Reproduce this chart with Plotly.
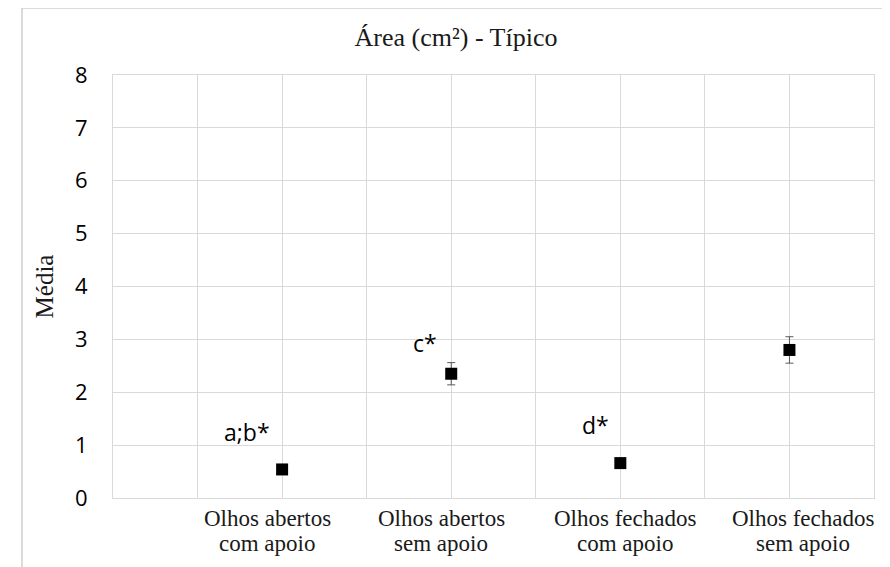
import plotly.graph_objects as go

categories = ["Olhos abertos<br>com apoio", "Olhos abertos<br>sem apoio",
              "Olhos fechados<br>com apoio", "Olhos fechados<br>sem apoio"]
means = [0.54, 2.35, 0.66, 2.80]
errors = [0.05, 0.21, 0.05, 0.25]
sig_labels = ["a;b*", "c*", "d*", ""]
y_ticks = [0, 1, 2, 3, 4, 5, 6, 7, 8]

# categories sit on every second grid slot of a 0..9 axis
x_pos = [2 * (i + 1) for i in range(len(categories))]
grid_vals = list(range(0, 10))

# the page body has an 8px margin, so the figure is 8px smaller and shifted
W, H = 882, 559
PLOT_H = 423
fig = go.Figure()
fig.add_trace(go.Scatter(
    x=x_pos, y=means, mode="markers",
    marker=dict(symbol="square", size=12, color="black"),
    error_y=dict(type="data", array=errors, visible=True, color="#595959", thickness=1, width=4),
    showlegend=False, cliponaxis=False,
))

offsets = [(-35, 37), (-26, 31), (-25, 38), (0, 0)]
for xv, yv, lab, (dx, dy) in zip(x_pos, means, sig_labels, offsets):
    if lab:
        fig.add_annotation(x=xv, y=yv, text=lab, showarrow=False, xshift=dx, yshift=dy,
                           font=dict(family="Open Sans", size=23, color="black"))

# category labels (two lines each) below the axis
label_shift = [-15, -10, 5, 14]
line_y = [-20 / PLOT_H, -45 / PLOT_H]
for xv, cat, sh in zip(x_pos, categories, label_shift):
    for ln, ly in zip(cat.split("<br>"), line_y):
        fig.add_annotation(x=xv, xref="x", y=ly, yref="paper", text=ln, showarrow=False,
                           xshift=sh, xanchor="center", yanchor="middle",
                           font=dict(family="Liberation Serif", size=23, color="#1a1a1a"))

grid_col = "#d9d9d9"
fig.update_layout(
    width=W, height=H,
    margin=dict(l=105, r=16, t=67, b=69),
    paper_bgcolor="white", plot_bgcolor="white",
    title=dict(text="Área (cm²) - Típico", x=448 / W, xanchor="center", y=1 - 29 / H, yanchor="middle",
               font=dict(family="Liberation Serif", size=26, color="#1a1a1a")),
    xaxis=dict(range=[0, 9], tickmode="array", tickvals=grid_vals, showticklabels=False,
               showgrid=True, gridcolor=grid_col, gridwidth=1, zeroline=False, automargin=False,
               showline=True, linecolor=grid_col, mirror=True, ticks=""),
    yaxis=dict(range=[0, 8], tickmode="array", tickvals=y_ticks,
               showgrid=True, gridcolor=grid_col, gridwidth=1, zeroline=False, automargin=False,
               showline=True, linecolor=grid_col, mirror=True, ticks="",
               ticklabelstandoff=20,
               tickfont=dict(family="Open Sans", size=22, color="black"),
               title=dict(text="Média", standoff=14,
                          font=dict(family="Liberation Serif", size=25, color="#1a1a1a"))),
)
fig.add_shape(type="rect", xref="paper", yref="paper",
              x0=(22 - 113) / 761, x1=(887 - 113) / 761, y0=(498 - 575) / PLOT_H, y1=(498 - 8) / PLOT_H,
              line=dict(color="#d0d0d0", width=1.5), layer="below")
fig.write_html("out.html")
